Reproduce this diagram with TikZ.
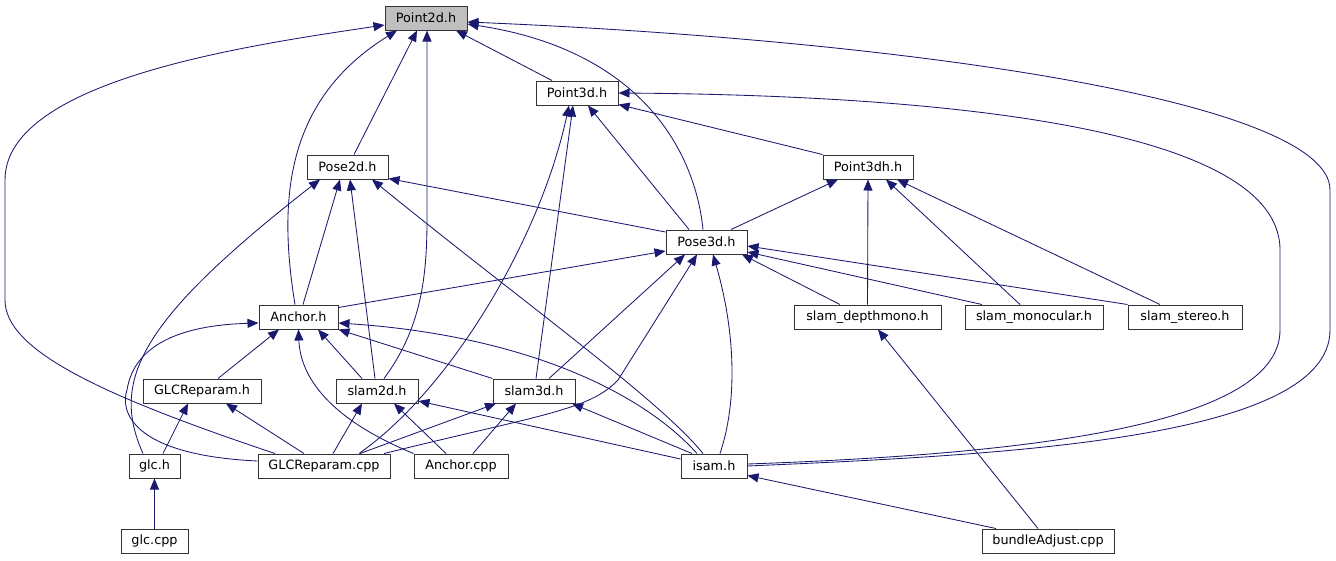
\documentclass[tikz,border=0pt]{standalone}
\usepackage{fontspec}
\setmainfont{DejaVu Sans}
\usepackage{xcolor}
\usetikzlibrary{arrows.meta}
\definecolor{edgeblue}{HTML}{191970}
\tikzstyle{file} = [rectangle, draw=black!80, line width=1pt, fill=white,
                    minimum height=24pt, inner sep=0pt,
                    font=\fontsize{12.8}{14}\selectfont]
\tikzstyle{root} = [file, fill=black!25]
\tikzstyle{dep}  = [draw=edgeblue, line width=0.85pt,
                    -{Triangle[length=11pt, width=9pt]}]
\begin{document}
\begin{tikzpicture}[x=1pt, y=-1pt]
    \useasboundingbox (0,0) rectangle (1336,560);

    % ── Headers ─────────────────────────────────────────────────────────────
    \node (p2)     [root, minimum width=82pt]  at (426,18)    {Point2d.h};
    \node (p3)     [file, minimum width=82pt]  at (577,93)    {Point3d.h};
    \node (pose2)  [file, minimum width=81pt]  at (347.5,167) {Pose2d.h};
    \node (p3h)    [file, minimum width=90pt]  at (868,167)   {Point3dh.h};
    \node (pose3)  [file, minimum width=81pt]  at (706.5,242) {Pose3d.h};
    \node (anchor) [file, minimum width=79pt]  at (298.5,317) {Anchor.h};
    \node (depth)  [file, minimum width=147pt] at (867.5,317) {slam\_depthmono.h};
    \node (mono)   [file, minimum width=138pt] at (1034,317)  {slam\_monocular.h};
    \node (stereo) [file, minimum width=114pt] at (1185,317)  {slam\_stereo.h};
    \node (glcrh)  [file, minimum width=118pt] at (202,391)   {GLCReparam.h};
    \node (slam2d) [file, minimum width=82pt]  at (377,391)   {slam2d.h};
    \node (slam3d) [file, minimum width=82pt]  at (534,391)   {slam3d.h};
    \node (glch)   [file, minimum width=51pt]  at (154.5,466) {glc.h};
    \node (isam)   [file, minimum width=66pt]  at (714,466)   {isam.h};

    % ── Sources ─────────────────────────────────────────────────────────────
    \node (glccpp)    [file, minimum width=132pt] at (324,466)   {GLCReparam.cpp};
    \node (anchorcpp) [file, minimum width=94pt]  at (461,466)   {Anchor.cpp};
    \node (glcc)      [file, minimum width=67pt]  at (154.5,541) {glc.cpp};
    \node (bundle)    [file, minimum width=132pt] at (1048,541)  {bundleAdjust.cpp};

    % ── Into Point2d.h ──────────────────────────────────────────────────────
    \draw [dep] ([xshift=-25pt]p3.north) -- ([xshift=30pt]p2.south);
    \draw [dep] ([xshift=6.5pt]pose2.north) -- ([xshift=-9pt]p2.south);
    \draw [dep] ([xshift=-3.5pt]anchor.north) .. controls (278,200) and (285,100) .. ([xshift=-29pt]p2.south);
    \draw [dep] ([xshift=7pt]slam2d.north) .. controls (420,330) and (427,280) .. (427,220) -- ([xshift=1pt]p2.south);
    \draw [dep] ([xshift=-3.5pt]pose3.north) .. controls (695,150) and (640,50) .. ([yshift=-6pt]p2.east);
    \draw [dep] (isam.east) .. controls (1000,455) and (1330,440) .. (1330,330)
        -- (1330,190) .. controls (1330,100) and (900,40) .. ([yshift=-4pt]p2.east);
    \draw [dep] ([xshift=-49pt]glccpp.north) .. controls (100,395) and (5,350) .. (5,300)
        -- (5,180) .. controls (5,80) and (250,45) .. ([yshift=-7pt]p2.west);

    % ── Into Point3d.h ──────────────────────────────────────────────────────
    \draw [dep] ([yshift=2pt]isam.east) .. controls (1000,455) and (1280,430) .. (1280,330)
        -- (1280,250) .. controls (1280,120) and (900,95) .. (p3.east);
    \draw [dep] (p3h.north west) -- ([yshift=1pt]p3.south east);
    \draw [dep] ([xshift=-17.5pt]pose3.north) -- ([xshift=11pt]p3.south);
    \draw [dep] ([xshift=2pt]slam3d.north) -- ([xshift=-4pt]p3.south);
    \draw [dep] ([xshift=35pt]glccpp.north) .. controls (450,390) and (540,240) .. ([xshift=-8pt]p3.south);

    % ── Into Pose2d.h ───────────────────────────────────────────────────────
    \draw [dep] ([yshift=10pt]pose3.west) -- ([yshift=1pt]pose2.south east);
    \draw [dep] ([xshift=4.5pt]anchor.north) -- ([xshift=-7.5pt]pose2.south);
    \draw [dep] ([xshift=-2pt]slam2d.north) -- ([xshift=2.5pt]pose2.south);
    \draw [dep] ([xshift=-11.5pt]glch.north) .. controls (110,380) and (140,320) .. ([xshift=-27.5pt]pose2.south);
    \draw [dep] ([xshift=-11pt]isam.north) .. controls (660,400) and (520,300) .. ([xshift=24.5pt]pose2.south);

    % ── Into Point3dh.h ─────────────────────────────────────────────────────
    \draw [dep] ([xshift=24.5pt]pose3.north) -- ([xshift=-30pt]p3h.south);
    \draw [dep] (depth.north) -- (p3h.south);
    \draw [dep] ([xshift=-14pt]mono.north) -- ([xshift=18pt]p3h.south);
    \draw [dep] ([xshift=-25pt]stereo.north) -- ([xshift=29pt]p3h.south);

    % ── Into Pose3d.h ───────────────────────────────────────────────────────
    \draw [dep] ([yshift=-3pt]anchor.north east) -- ([yshift=-9pt]pose3.west);
    \draw [dep] ([xshift=-27.5pt]depth.north) -- ([xshift=35.5pt]pose3.south);
    \draw [dep] ([xshift=-52pt]mono.north) -- ([yshift=-10pt]pose3.east);
    \draw [dep] (stereo.north west) -- ([yshift=-4pt]pose3.east);
    \draw [dep] ([xshift=15pt]slam3d.north) -- ([xshift=-21.5pt]pose3.south);
    \draw [dep] ([xshift=60pt]glccpp.north) .. controls (540,415) and (590,410) .. (618,380)
        -- ([xshift=-9.5pt]pose3.south);
    \draw [dep] ([xshift=6pt]isam.north) .. controls (738,400) and (735,330) .. ([xshift=6.5pt]pose3.south);

    % ── Into Anchor.h ───────────────────────────────────────────────────────
    \draw [dep] ([xshift=16pt]glcrh.north) -- ([xshift=-19.5pt]anchor.south);
    \draw [dep] ([xshift=-15pt]slam2d.north) -- ([xshift=19.5pt]anchor.south);
    \draw [dep] (anchorcpp.north west) .. controls (320,415) and (300,370) .. (anchor.south);
    \draw [dep] (slam3d.north west) -- (anchor.south east);
    \draw [dep] ([xshift=-17pt]isam.north) .. controls (640,390) and (520,335) .. ([yshift=-6pt]anchor.east);
    \draw [dep] ([yshift=5pt]glccpp.west) .. controls (130,455) and (120,410) .. (127,390)
        .. controls (135,340) and (190,325) .. ([yshift=-6pt]anchor.west);

    % ── Into GLCReparam.h, slam2d.h, slam3d.h ───────────────────────────────
    \draw [dep] ([xshift=8.5pt]glch.north) -- ([xshift=-14pt]glcrh.south);
    \draw [dep] ([xshift=-20pt]glccpp.north) -- ([xshift=24pt]glcrh.south);
    \draw [dep] ([xshift=9pt]glccpp.north) -- ([xshift=-15pt]slam2d.south);
    \draw [dep] ([xshift=-15pt]anchorcpp.north) -- ([xshift=17pt]slam2d.south);
    \draw [dep] ([yshift=7pt]isam.west) -- ([yshift=-10pt]slam2d.east);
    \draw [dep] ([xshift=36pt]glccpp.north) -- ([xshift=-38pt]slam3d.south);
    \draw [dep] ([xshift=12pt]anchorcpp.north) -- ([xshift=-18pt]slam3d.south);
    \draw [dep] ([xshift=-22pt]isam.north) -- ([xshift=38pt]slam3d.south);

    % ── Bottom row ──────────────────────────────────────────────────────────
    \draw [dep] (glcc) -- (glch);
    \draw [dep] ([xshift=-52pt]bundle.north) -- ([yshift=3pt]isam.south east);
    \draw [dep] ([xshift=-10pt]bundle.north) -- ([xshift=10.5pt]depth.south);

\end{tikzpicture}
\end{document}
